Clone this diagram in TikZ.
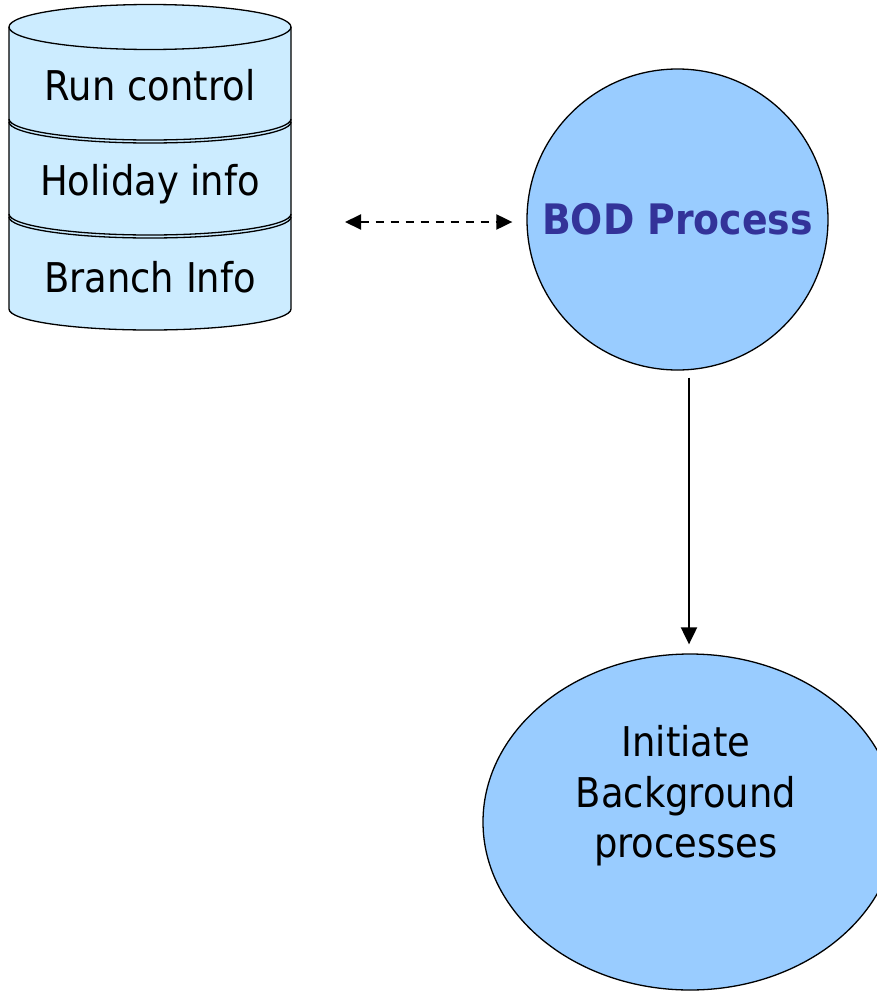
\documentclass[tikz,border=0pt]{standalone}
\usepackage{fontspec}
\setmainfont{DejaVu Sans}[FakeStretch=0.9]
\usetikzlibrary{arrows.meta,shapes.geometric}
\definecolor{dbfill}{HTML}{CCECFF}
\definecolor{procfill}{HTML}{99CCFF}
\definecolor{bodblue}{HTML}{333399}
\tikzset{
  outline/.style={draw=black,line width=1.3pt},
  dbtext/.style={font=\fontsize{41}{49}\selectfont,anchor=base,inner sep=0pt},
  proc/.style={outline,fill=procfill,inner sep=0pt},
  tip/.style={-{Triangle[length=17pt,width=16pt]}},
  flow/.style={line width=2pt,tip},
  dataflow/.style={line width=2pt,dash pattern=on 8pt off 7pt,{Triangle[length=16pt,width=15pt]}-{Triangle[length=16pt,width=15pt]}}
}
\begin{document}
\begin{tikzpicture}[x=1pt,y=-1pt]
\useasboundingbox (0,0) rectangle (877,993);
\clip (0,0) rectangle (877,993);
% database stack
\fill[dbfill] (9,27) -- (9,309) arc[start angle=180,end angle=0,x radius=141,y radius=21]
  -- (291,27) arc[start angle=0,end angle=-180,x radius=141,y radius=22.5] -- cycle;
\draw[outline] (150,27) ellipse[x radius=141,y radius=22.5];
\draw[outline] (9,27) -- (9,309) arc[start angle=180,end angle=0,x radius=141,y radius=21] -- (291,27);
\draw[outline] (9,119) arc[start angle=180,end angle=0,x radius=141,y radius=21];
\draw[outline] (9,122) arc[start angle=180,end angle=0,x radius=141,y radius=21];
\draw[outline] (9,214) arc[start angle=180,end angle=0,x radius=141,y radius=21];
\draw[outline] (9,217) arc[start angle=180,end angle=0,x radius=141,y radius=21];
\node[dbtext] (run) at (150,100) {Run control};
\node[dbtext] (hol) at (150,195) {Holiday info};
\node[dbtext] (branch) at (150,292) {Branch Info};
\coordinate (dbport) at (345,222);
% processes
\node[proc,circle,minimum size=301pt,font=\fontsize{42}{50}\selectfont\bfseries,text=bodblue] (bod) at (677.5,219.5) {BOD Process};
\node[proc,ellipse,minimum width=414pt,minimum height=336pt] (init) at (690,822) {};
\node[font=\fontsize{41}{50.5}\selectfont,align=center,inner sep=0pt] (inittext) at (686,796) {Initiate\\Background\\processes};
% connectors
\draw[dataflow,shorten >=14pt] (dbport) -- (bod.west |- dbport);
\draw[flow,shorten <=7pt,shorten >=9pt] (689,0 |- bod.south) -- (689,0 |- init.north);
\end{tikzpicture}
\end{document}
